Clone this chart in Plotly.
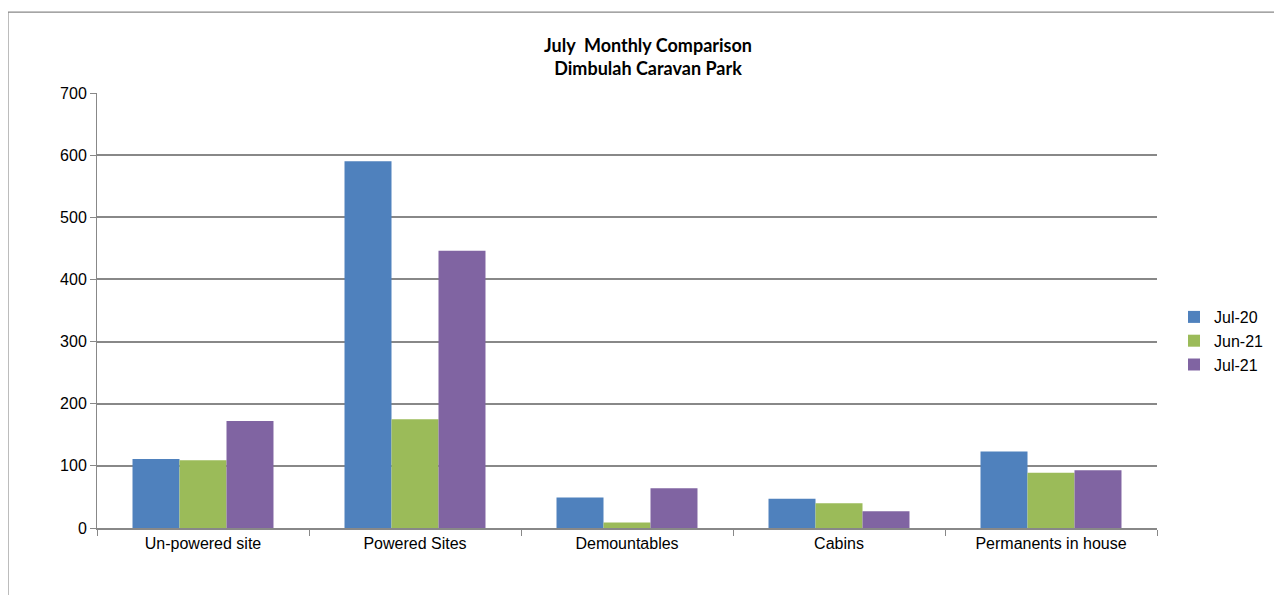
import plotly.graph_objects as go

categories = ["Un-powered site", "Powered Sites", "Demountables", "Cabins", "Permanents in house"]
jul20 = [111, 590, 49, 47, 123]
jun21 = [109, 175, 9, 40, 89]
jul21 = [172, 446, 64, 27, 93]
series_names = ["Jul-20", "Jun-21", "Jul-21"]
colors = ["#4F81BD", "#9BBB59", "#8064A2"]
y_ticks = [0, 100, 200, 300, 400, 500, 600, 700]

fig = go.Figure()
for name, vals, c in zip(series_names, [jul20, jun21, jul21], colors):
    fig.add_trace(go.Bar(x=categories, y=vals, name=name, marker_color=c,
                         marker_line_width=0))

W, H = 1266, 587
fig.update_layout(
    width=W, height=H,
    paper_bgcolor="white", plot_bgcolor="white",
    margin=dict(l=89, r=117, t=85, b=67, autoexpand=False),
    barmode="group", bargap=0.335, bargroupgap=0,
    font=dict(family="Liberation Sans, Arial", size=16, color="#000000"),
    title=dict(text="<b>July  Monthly Comparison<br>Dimbulah Caravan Park</b>",
               x=(648 - 8) / W, xanchor="center", y=1 - (52 - 8) / H, yanchor="middle",
               font=dict(family="Lato, Open Sans", size=18, color="#000000")),
    legend=dict(xref="container", yref="container",
                x=(1174 - 8) / W, xanchor="left", y=1 - (341 - 8) / H, yanchor="middle",
                font=dict(size=16), tracegroupgap=0, itemwidth=30,
                bgcolor="rgba(0,0,0,0)"),
    showlegend=True,
)
fig.update_xaxes(showline=True, linecolor="#888888", linewidth=1.5,
                 ticks="outside", tickson="boundaries", ticklen=6, tickcolor="#888888",
                 showgrid=False, tickfont=dict(size=16))
fig.update_yaxes(range=[0, 700], tickvals=y_ticks, showline=True, linecolor="#888888",
                 linewidth=1, ticks="outside", ticklen=6, tickcolor="#888888",
                 showgrid=True, gridcolor="#888888", gridwidth=1.5, zeroline=False,
                 tickfont=dict(size=16))

fig.add_shape(type="rect", xref="paper", yref="paper",
              x0=-0.084, x1=1.2, y0=-0.3, y1=1.186,
              line=dict(color="#888888", width=1.2), fillcolor="rgba(0,0,0,0)", layer="below")

fig.write_html("out.html")
